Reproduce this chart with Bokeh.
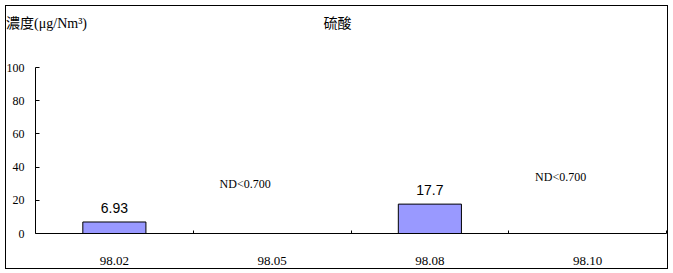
from bokeh.plotting import figure
from bokeh.models import Range1d, FixedTicker, LinearAxis, ColumnDataSource
from bokeh.core.properties import value
from bokeh.embed import file_html
from bokeh.resources import INLINE

# Data
categories = ["98.02", "98.05", "98.08", "98.10"]
values = [6.93, 0.0, 17.7, 0.0]
value_labels = ["6.93", "", "17.7", ""]
nd_labels = ["", "ND<0.700", "", "ND<0.700"]
nd_label_y = [0, 30, 0, 34]
y_ticks = [0, 20, 40, 60, 80, 100]
title_text = "硫酸"
ylabel_text = "濃度(μg/Nm³)"

xs = [i + 0.5 for i in range(len(categories))]

p = figure(width=673, height=273, output_backend="svg", toolbar_location=None,
           x_range=Range1d(0, len(categories)), y_range=Range1d(0, 100),
           min_border_left=35, min_border_right=7, min_border_top=67, min_border_bottom=40)
p.outline_line_color = None
p.xgrid.grid_line_color = None
p.ygrid.grid_line_color = None
p.background_fill_color = None
p.border_fill_color = None
# outer chart border, painted behind the transparent canvas
line = "linear-gradient(#000,#000)"
p.styles = {"background": (f"{line} 5px 5px / 663px 1px no-repeat, "
                           f"{line} 5px 268px / 663px 1px no-repeat, "
                           f"{line} 5px 5px / 1px 264px no-repeat, "
                           f"{line} 667px 5px / 1px 264px no-repeat, #fff")}

bars = ColumnDataSource(dict(x=xs, top=values, lab=value_labels))
p.vbar(x="x", top="top", width=0.4, source=bars, fill_color="#9999FF", line_color="black", line_width=1)
p.text(x="x", y="top", text="lab", source=bars, text_align="center", text_baseline="bottom",
       y_offset=-9, text_font=value("Liberation Sans"), text_font_size="14px", text_color="black")

nd = ColumnDataSource(dict(x=xs, y=nd_label_y, lab=nd_labels))
p.text(x="x", y="y", text="lab", source=nd, text_align="center", text_baseline="middle",
       x_offset=-27, text_font=value("Liberation Serif"), text_font_size="12px", text_color="black")

# x axis: labels at category centers, ticks at boundaries
p.xaxis.ticker = FixedTicker(ticks=xs, minor_ticks=list(range(1, len(categories) + 1)))
p.xaxis.major_label_overrides = {x: c for x, c in zip(xs, categories)}
p.xaxis.major_tick_in = 0
p.xaxis.major_tick_out = 0
p.xaxis.minor_tick_in = 3
p.xaxis.minor_tick_out = 0
p.xaxis.minor_tick_line_color = "black"
p.xaxis.major_label_standoff = 23
p.xaxis.major_label_text_font = "Liberation Serif"
p.xaxis.major_label_text_font_size = "13px"
p.xaxis.major_label_text_color = "black"
p.xaxis.axis_line_color = "black"

p.yaxis.ticker = FixedTicker(ticks=y_ticks)
p.yaxis.major_tick_in = 4
p.yaxis.major_tick_out = 0
p.yaxis.minor_tick_line_color = None
p.yaxis.major_label_standoff = 11
p.yaxis.major_label_text_font = "Liberation Serif"
p.yaxis.major_label_text_font_size = "12px"
p.yaxis.major_label_text_color = "black"
p.yaxis.axis_line_color = "black"

# title and unit label drawn as labels of an unlined axis above the plot
title_x = 1.914
ylabel_x = 0.07
top_axis = LinearAxis(ticker=FixedTicker(ticks=[ylabel_x, title_x]),
                      major_label_overrides={ylabel_x: ylabel_text, title_x: title_text},
                      axis_line_color=None, major_tick_line_color=None, minor_tick_line_color=None,
                      major_label_standoff=31,
                      major_label_text_font="'Liberation Serif', 'Noto Sans CJK TC'",
                      major_label_text_font_size="14px", major_label_text_color="black")
p.add_layout(top_axis, "above")

open("out.html", "w").write(file_html(p, INLINE))
